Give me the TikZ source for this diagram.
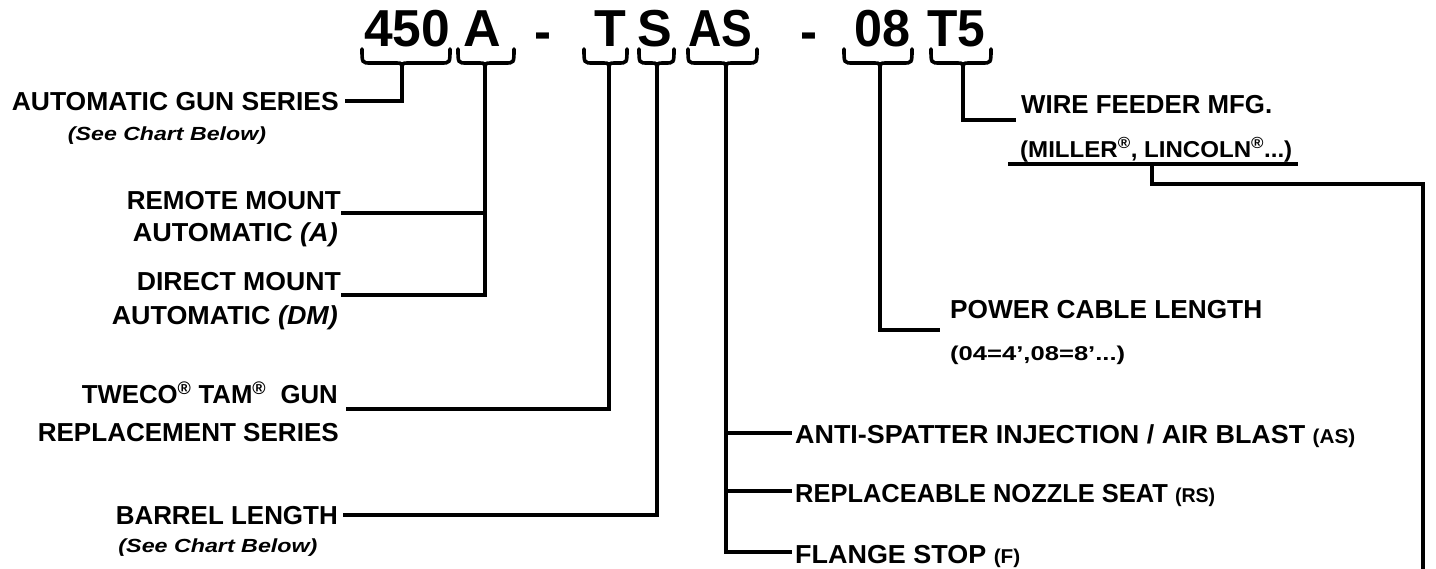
\documentclass[tikz,border=0pt]{standalone}
\usepackage{fontspec}
\usepackage{graphicx}
\setmainfont{Liberation Sans}
\newcommand\fw[2]{\resizebox{#1pt}{\height}{#2}}
\tikzset{
  lbl/.style={inner sep=0pt, font=\fontsize{26}{30}\selectfont\bfseries},
  sml/.style={inner sep=0pt, font=\fontsize{20}{24}\selectfont\bfseries},
  big/.style={inner sep=0pt, font=\fontsize{52}{60}\selectfont\bfseries},
  ln/.style={line width=4pt, line join=miter},
  brc/.style={line width=3.6pt, line cap=round},
}
\newcommand\mybrace[4]{% name, x1, x2, xm
  \draw[brc] (#2,49) .. controls (#2,63) .. (#2+9,63) -- (#4-6,63) .. controls (#4,63) .. (#4,71);
  \draw[brc] (#3,49) .. controls (#3,63) .. (#3-9,63) -- (#4+6,63) .. controls (#4,63) .. (#4,71);
  \coordinate (#1) at (#4,63);
}
\begin{document}
\begin{tikzpicture}[x=1pt,y=-1pt]
\useasboundingbox (0,0) rectangle (1436,569);
% code characters
\node[big,anchor=base] (c450) at (407,47) {\fw{86}{450}};
\node[big,anchor=base] (cA) at (482,47) {A};
\node[big,anchor=base] (d1) at (543,50) {\fw{17}{-}};
\node[big,anchor=base] (cT) at (610,47) {T};
\node[big,anchor=base] (cS) at (655,47) {S};
\node[big,anchor=base] (cAS) at (720,47) {\fw{64}{AS}};
\node[big,anchor=base] (d2) at (809,50) {\fw{17}{-}};
\node[big,anchor=base] (c08) at (882,47) {\fw{56}{08}};
\node[big,anchor=base] (cT5) at (956,47) {\fw{58}{T5}};
% braces
\mybrace{b450}{362}{450}{402}
\mybrace{bA}{458}{514}{485}
\mybrace{bT}{584}{627}{609}
\mybrace{bS}{639}{674}{657}
\mybrace{bAS}{688}{757}{726}
\mybrace{b08}{844}{912}{880}
\mybrace{bT5}{931}{991}{963}
% left labels
\node[lbl,anchor=base east] (gun) at (339,111) {\fw{327}{AUTOMATIC GUN SERIES}};
\node[sml,anchor=base,font=\fontsize{19}{22}\selectfont\bfseries\itshape] (see1) at (167,141) {\fw{198}{(See Chart Below)}};
\node[lbl,anchor=base east] (rm1) at (341,210) {\fw{214}{REMOTE MOUNT}};
\node[lbl,anchor=base east] (rm2) at (338,242) {\fw{205}{AUTOMATIC \textit{(A)}}};
\node[lbl,anchor=base east] (dm1) at (341,291) {\fw{204}{DIRECT MOUNT}};
\node[lbl,anchor=base east] (dm2) at (338,325) {\fw{226}{AUTOMATIC \textit{(DM)}}};
\node[lbl,anchor=base east] (tw1) at (338,404) {\fw{256}{TWECO\textsuperscript{\textregistered} TAM\textsuperscript{\textregistered}\ \ GUN}};
\node[lbl,anchor=base east] (tw2) at (339,442) {\fw{301}{REPLACEMENT SERIES}};
\node[lbl,anchor=base east] (bl) at (338,524) {\fw{222}{BARREL LENGTH}};
\node[sml,anchor=base,font=\fontsize{19}{22}\selectfont\bfseries\itshape] (see2) at (218,552) {\fw{199}{(See Chart Below)}};
% right labels
\node[lbl,anchor=base west] (as) at (795,443) {\fw{560}{ANTI-SPATTER INJECTION / AIR BLAST {\fontsize{20}{24}\selectfont(AS)}}};
\node[lbl,anchor=base west] (rs) at (795,502) {\fw{420}{REPLACEABLE NOZZLE SEAT {\fontsize{20}{24}\selectfont(RS)}}};
\node[lbl,anchor=base west] (fs) at (795,563) {\fw{225}{FLANGE STOP {\fontsize{20}{24}\selectfont(F)}}};
\node[lbl,anchor=base west] (pc1) at (950,319) {\fw{312}{POWER CABLE LENGTH}};
\node[sml,anchor=base west] (pc2) at (950,361) {\fw{175}{(04=4',08=8'...)}};
\node[lbl,anchor=base west] (wf1) at (1021,114) {\fw{251}{WIRE FEEDER MFG.}};
\node[sml,anchor=base west,font=\fontsize{23}{26}\selectfont\bfseries] (wf2) at (1020,158) {\fw{272}{(MILLER\textsuperscript{\textregistered}, LINCOLN\textsuperscript{\textregistered}...)}};
% connectors
\coordinate (u1) at (1008,164);
\coordinate (u2) at (1298,164);
\coordinate (uc) at (1152,164);
\coordinate (rt) at (1423,184);
\coordinate (bot) at (1423,569);
\draw[ln] (u1) -- (u2);
\draw[ln] (uc) |- (rt) -- (bot);
\draw[ln] (b450) |- (345,101);
\draw[ln] (bA) |- (341,295);
\draw[ln] (bA |- 0,213) -- (341,213);
\draw[ln] (bT) |- (346,409);
\draw[ln] (bS) |- (343,515);
\draw[ln] (bAS) |- (792,552);
\draw[ln] (bAS |- 0,433) -- (792,433);
\draw[ln] (bAS |- 0,491) -- (792,491);
\draw[ln] (b08) |- (940,330);
\draw[ln] (bT5) |- (1016,120);
\end{tikzpicture}
\end{document}
